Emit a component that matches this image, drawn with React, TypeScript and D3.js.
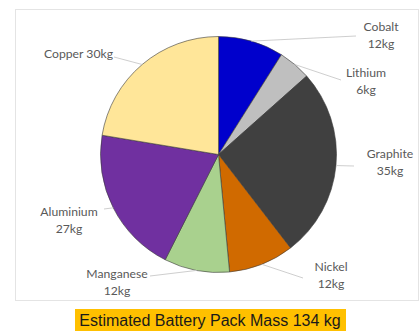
import * as d3 from "d3";

const materials = ["Cobalt", "Lithium", "Graphite", "Nickel", "Manganese", "Aluminium", "Copper"];
const massKg = [12, 6, 35, 12, 12, 27, 30];
const sliceColors = ["#0000CC", "#BFBFBF", "#404040", "#D06A00", "#A9D18E", "#7030A0", "#FFE699"];
const totalLabel = "Estimated Battery Pack Mass 134 kg";

const W = 419;
const H = 331;
const CX = 218.5;
const CY = 154.5;
const R = 118;

// label placement (text centre/edge, line spacing 17) and where the leader ends
const LABELS: Record<string, { x: number; y: number; anchor: string; oneLine?: boolean; lx: number; ly: number }> = {
  Cobalt: { x: 381, y: 28, anchor: "middle", lx: 356, ly: 36 },
  Lithium: { x: 366, y: 74, anchor: "middle", lx: 341, ly: 80 },
  Graphite: { x: 390, y: 155, anchor: "middle", lx: 354, ly: 166 },
  Nickel: { x: 331, y: 268, anchor: "middle", lx: 303, ly: 278 },
  Manganese: { x: 117, y: 275, anchor: "middle", lx: 150, ly: 276 },
  Aluminium: { x: 69, y: 213, anchor: "middle", lx: 104, ly: 209 },
  Copper: { x: 113, y: 55, anchor: "end", oneLine: true, lx: 114, ly: 57 },
};

export default function App() {
  const pie = d3
    .pie<number>()
    .sort(null)
    .value((d) => d);
  const arcs = pie(massKg);
  const arc = d3.arc<d3.PieArcDatum<number>>().innerRadius(0).outerRadius(R);

  return (
    <svg
      width={W}
      height={H}
      style={{ position: "absolute", left: 0, top: 0, background: "#fff" }}
      fontFamily="Lato, 'Open Sans', sans-serif"
    >
      <rect x={15.5} y={9.5} width={403} height={291} fill="#fff" stroke="#e4e4e4" strokeWidth={1} />
      <g transform={`translate(${CX},${CY})`}>
        {arcs.map((a, i) => (
          <path key={materials[i]} d={arc(a) ?? ""} fill={sliceColors[i]} stroke="#3a3a3a" strokeWidth={0.6} />
        ))}
      </g>
      {arcs.map((a, i) => {
        const name = materials[i];
        const l = LABELS[name];
        const mid = (a.startAngle + a.endAngle) / 2;
        const ex = CX + Math.sin(mid) * R;
        const ey = CY - Math.cos(mid) * R;
        return (
          <g key={name}>
            <line x1={ex} y1={ey} x2={l.lx} y2={l.ly} stroke="#c8c8c8" strokeWidth={0.9} />
            {l.oneLine ? (
              <text x={l.x} y={l.y} textAnchor={l.anchor} dominantBaseline="middle" fontSize={12.2} fill="#595959">
                {`${name} ${massKg[i]}kg`}
              </text>
            ) : (
              <text x={l.x} textAnchor={l.anchor} fontSize={12.2} fill="#595959" dominantBaseline="middle">
                <tspan x={l.x} y={l.y}>{name}</tspan>
                <tspan x={l.x} y={l.y + 17}>{`${massKg[i]}kg`}</tspan>
              </text>
            )}
          </g>
        );
      })}
      <rect x={75} y={309} width={271} height={26} fill="#FFC000" />
      <text
        x={210}
        y={322}
        textAnchor="middle"
        dominantBaseline="middle"
        fontFamily="'Liberation Sans', Arial, sans-serif"
        fontSize={16}
        fill="#1a1a1a"
      >
        {totalLabel}
      </text>
    </svg>
  );
}
